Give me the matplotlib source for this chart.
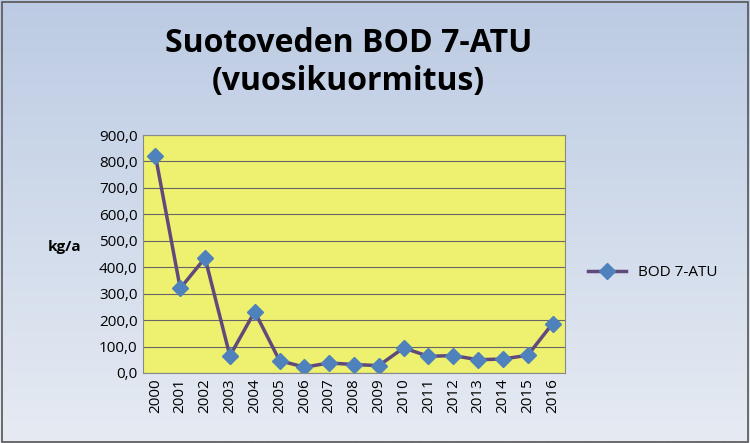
import matplotlib
matplotlib.use("Agg")
import matplotlib.pyplot as plt
import numpy as np

years = [str(y) for y in range(2000, 2017)]
bod = [822, 320, 435, 65, 232, 47, 22, 38, 32, 28, 95, 63, 66, 50, 53, 67, 187]
yticks = [0, 100, 200, 300, 400, 500, 600, 700, 800, 900]

plt.rcParams['font.family'] = ['Open Sans', 'DejaVu Sans']
fig = plt.figure(figsize=(7.5, 4.43), dpi=100)
bg = fig.add_axes([0, 0, 1, 1], zorder=-10)
grad = np.linspace(0, 1, 256).reshape(-1, 1)
from matplotlib.colors import LinearSegmentedColormap
cm = LinearSegmentedColormap.from_list('g', ['#e6ebf3', '#bccbe3'])
bg.imshow(grad, aspect='auto', cmap=cm, extent=[0, 1, 0, 1], origin='lower')
bg.set_axis_off()
bg.add_patch(plt.Rectangle((0.002, 0.003), 0.995, 0.993, fill=False, ec='#555555', lw=1.2, transform=bg.transAxes))

ax = fig.add_axes([143/750, 1-373/443, 422/750, 238/443])
ax.set_facecolor('#eef070')
x = np.arange(len(years))
ax.plot(x, bod, color='#604a7b', lw=2.5, marker='D', ms=8, mfc='#4f81bd', mec='#4f81bd', label='BOD 7-ATU')
ax.set_xlim(-0.5, len(years) - 0.5)
ax.set_ylim(0, 900)
ax.set_yticks(yticks)
ax.set_yticklabels([f"{v:.1f}".replace('.', ',') for v in yticks], fontsize=11)
ax.set_xticks(x)
ax.set_xticklabels(years, rotation=90, fontsize=11)
ax.grid(axis='y', color='#666666', lw=0.8)
ax.set_axisbelow(True)
ax.tick_params(length=0, pad=4)
for s in ax.spines.values():
    s.set_color('#888888')
ax.set_ylabel('kg/a', rotation=0, fontsize=11, fontweight='bold', labelpad=25)
fig.text(0.465, 0.94, 'Suotoveden BOD 7-ATU\n(vuosikuormitus)', ha='center', va='top',
         fontsize=23, fontweight='bold', linespacing=1.2)
fig.legend(handles=ax.get_lines(), loc='center left', bbox_to_anchor=(0.765, 0.385),
           frameon=False, fontsize=11, handlelength=2.5)
fig.savefig('out.png', dpi=100)
